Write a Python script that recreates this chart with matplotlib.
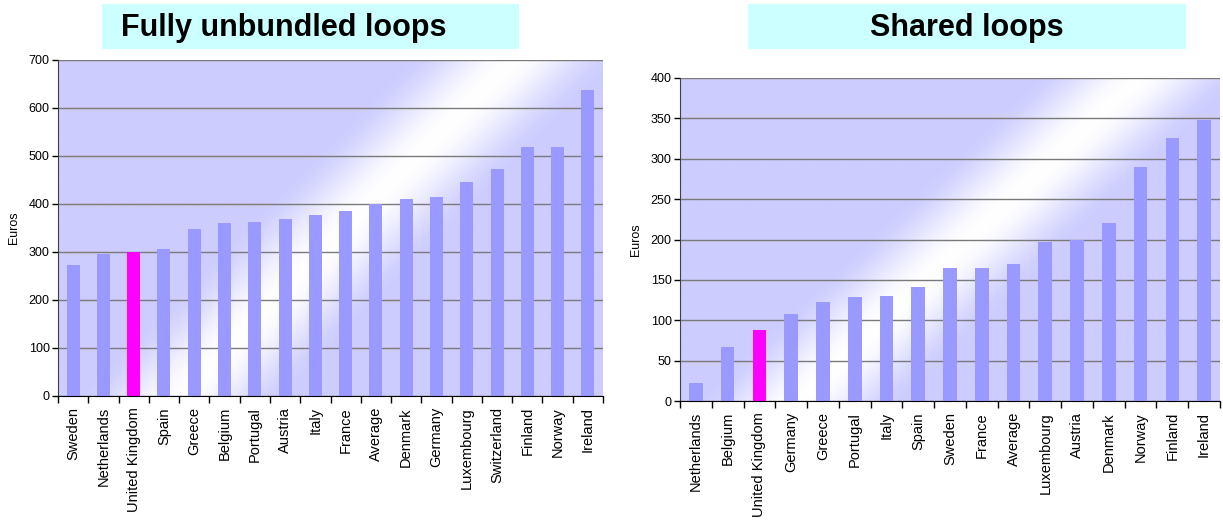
import numpy as np
import matplotlib
matplotlib.use('Agg')
import matplotlib.pyplot as plt
from matplotlib.patches import Rectangle

plt.rcParams['font.family'] = ['Liberation Sans', 'DejaVu Sans']

# Fully unbundled loops, euros
full_countries = ['Sweden', 'Netherlands', 'United Kingdom', 'Spain', 'Greece', 'Belgium',
                  'Portugal', 'Austria', 'Italy', 'France', 'Average', 'Denmark', 'Germany',
                  'Luxembourg', 'Switzerland', 'Finland', 'Norway', 'Ireland']
full_values = [273, 296, 300, 306, 348, 360, 362, 369, 377, 385, 400, 410, 415, 446, 473,
               518, 518, 637]

# Shared loops, euros
shared_countries = ['Netherlands', 'Belgium', 'United Kingdom', 'Germany', 'Greece', 'Portugal',
                    'Italy', 'Spain', 'Sweden', 'France', 'Average', 'Luxembourg', 'Austria',
                    'Denmark', 'Norway', 'Finland', 'Ireland']
shared_values = [22, 67, 88, 108, 122, 129, 130, 141, 165, 165, 170, 197, 200, 221, 290,
                 326, 348]

highlight = 'United Kingdom'
BAR = '#9999FF'
HIGHLIGHT = '#FF00FF'
LAVENDER = np.array([204, 204, 255]) / 255.0


def gradient_background(ax, u0, slope, half_width=0.2):
    # diagonal white sheen across a lavender plot area
    n = 400
    u, v = np.meshgrid(np.linspace(0, 1, n), np.linspace(0, 1, n))
    d = np.abs(u - (u0 + slope * v)) / half_width
    t = np.clip(1 - d, 0, 1)
    t = t * t * (3 - 2 * t)
    img = LAVENDER[None, None, :] * (1 - t[..., None]) + t[..., None]
    ax.imshow(img, extent=[0, 1, 0, 1], origin='lower', transform=ax.transAxes,
              aspect='auto', zorder=0, interpolation='bilinear')


def draw_panel(fig, rect, countries, values, ymax, ystep, title_box, title, title_x, grad):
    ax = fig.add_axes(rect)
    x = np.arange(len(countries))
    colors = [HIGHLIGHT if c == highlight else BAR for c in countries]
    gradient_background(ax, *grad)
    ax.bar(x, values, width=0.43, color=colors, zorder=3)
    ax.set_xlim(-0.5, len(countries) - 0.5)
    ax.set_ylim(0, ymax)
    ax.set_yticks(np.arange(0, ymax + 1, ystep))
    ax.yaxis.grid(True, color='#7a7a7a', linewidth=1.0, zorder=1)
    ax.set_axisbelow(False)
    for line in ax.get_ygridlines():
        line.set_zorder(2)
    ax.set_xticks(x)
    ax.set_xticklabels(countries, rotation=90, fontsize=10.5)
    ax.set_xticks(np.arange(-0.5, len(countries)), minor=True)
    ax.tick_params(axis='x', which='major', length=0, pad=8)
    ax.tick_params(axis='x', which='minor', length=5, width=1, direction='out')
    ax.tick_params(axis='y', length=4, width=1, labelsize=9, pad=2)
    ax.set_ylabel('Euros', fontsize=9, labelpad=6)
    for side in ['top', 'right']:
        ax.spines[side].set_visible(False)
    ax.spines['left'].set_color('#404040')
    ax.spines['bottom'].set_color('black')
    ax.spines['left'].set_zorder(4)
    ax.spines['bottom'].set_zorder(4)

    bx, by, bw, bh = title_box
    fig.patches.append(Rectangle((bx, by), bw, bh, transform=fig.transFigure,
                                 facecolor='#CCFFFF', edgecolor='none', zorder=0))
    fig.text(title_x, 1 - 28 / 522, title, ha='center', va='center',
             fontsize=22, fontweight='bold')
    return ax


fig = plt.figure(figsize=(12.23, 5.22), dpi=100)

draw_panel(fig, [58 / 1223, 1 - 396 / 522, 545 / 1223, 336 / 522],
           full_countries, full_values, 700, 100,
           (102 / 1223, 1 - 49 / 522, 417 / 1223, 45 / 522),
           'Fully unbundled loops', 284 / 1223, (0.225, 0.61))

draw_panel(fig, [680 / 1223, 1 - 401 / 522, 540 / 1223, 323 / 522],
           shared_countries, shared_values, 400, 50,
           (748 / 1223, 1 - 49 / 522, 438 / 1223, 45 / 522),
           'Shared loops', 967 / 1223, (0.22, 0.63))

fig.savefig('out.png', dpi=100)
